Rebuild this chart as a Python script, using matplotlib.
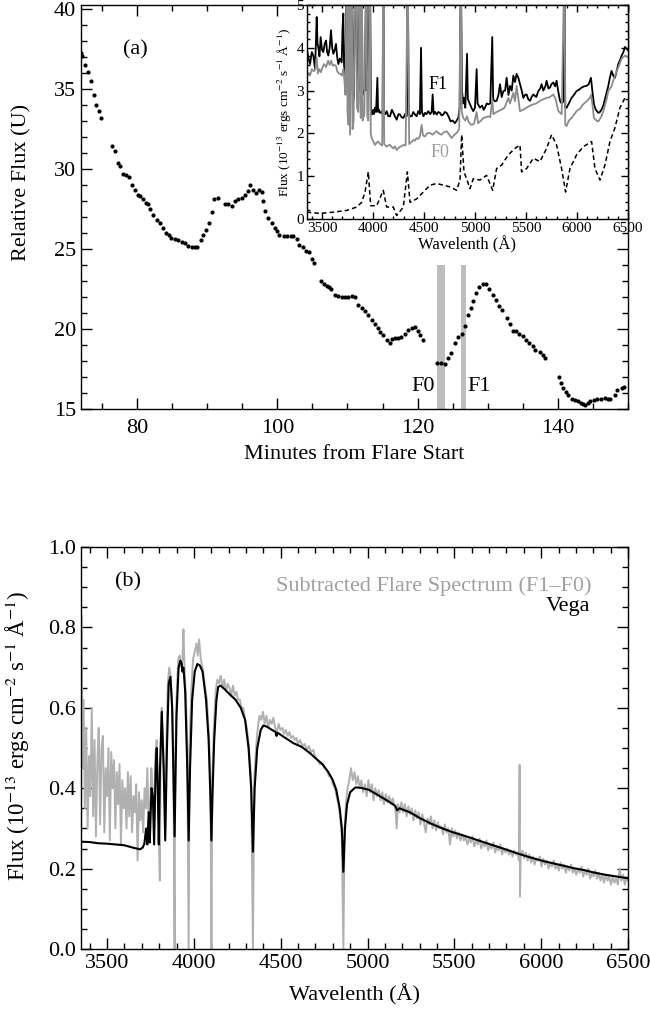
import matplotlib
matplotlib.use("Agg")
import matplotlib.pyplot as plt
from matplotlib.ticker import MultipleLocator

plt.rcParams['font.family'] = ['Liberation Serif', 'DejaVu Serif']
plt.rcParams['mathtext.fontset'] = 'stix'

# (a) U-band light curve
minutes = [72.0, 72.2, 72.6, 73.0, 73.4, 73.8, 74.2, 74.6, 74.9, 76.4, 76.9, 77.3, 77.6, 78.0,
           78.4, 78.8, 79.3, 79.7, 80.1, 80.4, 80.9, 81.3, 81.6, 81.9, 82.3, 82.8, 83.2, 83.65,
           84.1, 84.5, 84.9, 85.4, 85.9, 86.4, 86.8, 87.3, 87.8, 88.3, 88.6, 89.1, 89.45, 89.8,
           90.3, 90.65, 91.0, 91.6, 92.5, 93.0, 93.5, 94.0, 94.4, 94.9, 95.4, 95.8, 96.1, 96.5,
           96.9, 97.4, 97.8, 98.0, 98.25, 98.7, 99.3, 99.6, 99.9, 100.3, 100.9, 101.4, 101.9,
           102.3, 102.8, 103.1, 103.6, 104.1, 104.5, 104.9, 105.2, 106.2, 106.6, 107.05, 107.4,
           107.7, 108.2, 108.7, 109.2, 109.7, 110.1, 110.6, 111.1, 111.55, 112.0, 112.5, 112.95,
           113.5, 113.9, 114.3, 114.65, 115.1, 115.6, 116.0, 116.3, 116.8, 117.25, 117.7, 118.2,
           118.65, 119.2, 119.6, 120.0, 120.3, 120.7, 122.8, 123.3, 123.9, 124.4, 124.8, 125.35,
           125.8, 126.3, 126.8, 127.25, 127.6, 127.9, 128.35, 128.8, 129.3, 129.75, 130.25,
           130.7, 131.2, 131.65, 132.1, 132.7, 133.2, 133.65, 134.05, 134.5, 135.0, 135.5,
           135.95, 136.4, 136.8, 137.4, 137.9, 138.2, 140.1, 140.45, 140.8, 141.2, 141.5, 142.0,
           142.5, 142.9, 143.3, 143.6, 143.9, 144.3, 144.6, 145.2, 145.6, 146.1, 146.7, 147.1,
           147.5, 148.1, 148.5, 149.1, 149.5]
rel_flux = [37.26, 37.05, 36.5, 36.04, 35.5, 34.6, 34.0, 33.6, 33.2, 31.44, 31.1, 30.4, 30.2, 29.7,
            29.6, 29.5, 29.0, 28.7, 28.4, 28.3, 28.1, 27.9, 27.8, 27.5, 27.1, 26.8, 26.6, 26.3,
            26.0, 25.9, 25.7, 25.65, 25.55, 25.45, 25.35, 25.2, 25.1, 25.1, 25.15, 25.55, 25.9, 26.2,
            26.6, 27.3, 28.1, 28.2, 27.8, 27.8, 27.7, 28.0, 28.1, 28.2, 28.4, 28.6, 29.0, 28.7,
            28.5, 28.7, 28.55, 28.0, 27.4, 26.95, 26.65, 26.3, 26.1, 25.9, 25.8, 25.8, 25.8,
            25.8, 25.65, 25.25, 25.1, 24.9, 24.8, 24.4, 24.1, 23.0, 22.8, 22.7, 22.6,
            22.5, 22.15, 22.05, 22.0, 22.0, 22.0, 22.05, 22.0, 21.5, 21.3, 21.1, 20.85,
            20.55, 20.3, 20.05, 19.8, 19.6, 19.3, 19.1, 19.4, 19.45, 19.45, 19.5, 19.7,
            19.95, 20.05, 20.1, 19.9, 19.65, 19.3, 17.85, 17.85, 17.8, 18.2, 18.5, 19.1,
            19.5, 19.7, 20.2, 20.9, 21.3, 21.75, 22.25, 22.6, 22.8, 22.8, 22.5,
            22.1, 21.8, 21.45, 21.2, 20.7, 20.3, 19.9, 19.85, 19.7, 19.55, 19.3,
            19.1, 18.95, 18.7, 18.55, 18.4, 18.2, 17.0, 16.6, 16.3, 16.05, 15.85, 15.65,
            15.55, 15.47, 15.4, 15.33, 15.27, 15.35, 15.47, 15.55, 15.6, 15.62, 15.66, 15.64,
            15.62, 15.89, 16.2, 16.3, 16.4]
f0_window = [122.8, 123.9]
f1_window = [126.2, 126.9]

# inset: F1 and F0 spectra
f1_wave = [3350, 3368, 3383, 3400, 3415, 3432, 3448, 3456, 3464, 3475, 3487, 3500, 3513, 3527, 3540,
           3550, 3562, 3575, 3588, 3600, 3611, 3625, 3637, 3648, 3660, 3675, 3693, 3702, 3709, 3716,
           3730, 3742, 3750, 3760, 3768, 3778, 3791, 3805, 3815, 3824, 3835, 3845, 3856, 3873, 3880,
           3889, 3898, 3905, 3920, 3934, 3944, 3954, 3970, 3980, 3987, 4000, 4010, 4020, 4030, 4043,
           4050, 4060, 4069, 4085, 4095, 4101, 4108, 4120, 4134, 4150, 4167, 4185, 4200, 4215, 4232,
           4250, 4265, 4280, 4297, 4315, 4330, 4340, 4350, 4365, 4379, 4395, 4412, 4428, 4444, 4460,
           4471, 4480, 4495, 4510, 4525, 4542, 4560, 4575, 4585, 4595, 4610, 4624, 4640, 4657, 4672,
           4689, 4705, 4722, 4740, 4761, 4780, 4804, 4820, 4836, 4850, 4861, 4872, 4885, 4892, 4905,
           4922, 4930, 4951, 4965, 4983, 5000, 5016, 5025, 5049, 5070, 5085, 5098, 5115, 5130, 5150,
           5169, 5178, 5195, 5212, 5230, 5245, 5262, 5278, 5295, 5310, 5328, 5343, 5360, 5376, 5392,
           5408, 5425, 5441, 5458, 5474, 5490, 5506, 5522, 5539, 5555, 5572, 5600, 5621, 5640, 5653,
           5670, 5690, 5702, 5720, 5735, 5750, 5768, 5785, 5800, 5815, 5833, 5850, 5868, 5876, 5885,
           5898, 5920, 5947, 5970, 5996, 6020, 6045, 6070, 6094, 6115, 6137, 6150, 6166, 6185, 6209,
           6225, 6241, 6258, 6274, 6290, 6307, 6322, 6339, 6355, 6372, 6388, 6405, 6420, 6438, 6455,
           6470, 6485, 6500]
f1_flux = [4.0, 3.75, 3.62, 3.9, 3.82, 3.5, 4.72, 4.1, 4.0, 3.8, 4.25, 3.95, 3.9, 4.1, 4.17,
           3.9, 3.82, 4.0, 4.41, 4.0, 3.86, 3.95, 4.09, 3.8, 3.62, 3.75, 3.66, 4.5, 4.8, 3.6,
           3.3, 6.0, 3.1, 2.9, 6.0, 3.0, 6.0, 2.7, 2.9, 6.0, 6.0, 2.8, 2.68, 6.0, 3.0,
           6.0, 2.9, 2.99, 3.0, 6.0, 3.0, 3.15, 6.0, 2.5, 2.44, 2.55, 2.45, 2.6, 2.5, 3.3,
           2.5, 2.55, 2.48, 2.5, 2.45, 6.0, 2.5, 2.45, 2.52, 2.4, 2.4, 2.55, 2.48, 2.4, 2.32,
           2.45, 2.44, 2.38, 2.36, 2.45, 2.4, 6.0, 2.45, 2.4, 2.4, 2.5, 2.44, 2.4, 2.52, 2.45,
           4.0, 2.5, 2.4, 2.48, 2.45, 2.52, 2.45, 2.5, 2.91, 2.45, 2.5, 2.44, 2.5, 2.48, 2.42,
           2.44, 2.5, 2.48, 2.4, 2.28, 2.3, 2.24, 2.3, 2.36, 2.6, 6.0, 3.0, 2.7, 2.83, 2.6,
           3.86, 2.8, 2.68, 2.6, 2.52, 2.6, 3.5, 2.7, 2.6, 2.65, 2.55, 2.6, 2.7, 2.68, 2.7,
           4.25, 2.8, 2.75, 2.76, 2.9, 3.15, 2.85, 2.99, 3.0, 3.3, 2.9, 3.11, 3.0, 3.35, 3.2,
           3.39, 3.3, 3.15, 3.0, 2.83, 2.9, 2.91, 2.8, 2.76, 2.85, 2.91, 2.85, 2.99, 3.05, 3.15,
           3.0, 3.1, 3.23, 3.05, 3.07, 3.15, 3.19, 3.1, 3.23, 3.0, 2.76, 2.7, 2.75, 6.0, 2.6,
           2.6, 2.7, 2.83, 2.9, 2.99, 3.02, 3.07, 3.1, 3.11, 3.15, 3.3, 3.0, 2.68, 2.55, 2.48,
           2.5, 2.56, 2.65, 2.8, 2.95, 3.11, 3.3, 3.46, 3.35, 3.3, 3.45, 3.62, 3.7, 3.82, 3.9,
           4.02, 3.98, 3.94]
f0_wave = [3350, 3365, 3383, 3400, 3420, 3435, 3448, 3460, 3475, 3490, 3505, 3520, 3540, 3560, 3575,
           3590, 3605, 3620, 3637, 3650, 3665, 3680, 3695, 3709, 3720, 3730, 3742, 3750, 3760, 3768,
           3775, 3791, 3800, 3810, 3824, 3835, 3843, 3856, 3873, 3880, 3889, 3898, 3915, 3934, 3944,
           3954, 3970, 3978, 3987, 4005, 4020, 4035, 4050, 4070, 4090, 4101, 4110, 4134, 4150, 4167,
           4185, 4200, 4215, 4232, 4250, 4265, 4283, 4297, 4320, 4340, 4355, 4379, 4400, 4412, 4428,
           4444, 4460, 4477, 4490, 4510, 4530, 4558, 4585, 4605, 4624, 4645, 4669, 4690, 4722, 4745,
           4771, 4790, 4820, 4845, 4861, 4870, 4885, 4905, 4922, 4935, 4960, 4990, 5016, 5030, 5060,
           5082, 5110, 5130, 5150, 5169, 5180, 5196, 5230, 5262, 5290, 5327, 5343, 5376, 5392, 5408,
           5425, 5441, 5470, 5506, 5540, 5572, 5600, 5637, 5670, 5702, 5735, 5768, 5790, 5817, 5850,
           5876, 5885, 5898, 5920, 5947, 5975, 5996, 6030, 6061, 6094, 6126, 6137, 6150, 6166, 6190,
           6209, 6240, 6258, 6290, 6307, 6339, 6355, 6388, 6405, 6438, 6470, 6500]
f0_flux = [3.31, 3.4, 3.35, 3.5, 3.45, 3.5, 3.78, 3.4, 3.5, 3.43, 3.55, 3.62, 3.55, 3.7, 3.6,
           3.7, 3.58, 3.6, 3.58, 3.45, 3.4, 3.39, 3.35, 3.5, 3.23, 2.9, 6.0, 2.5, 2.2, 6.0,
           1.97, 6.0, 2.1, 2.3, 6.0, 6.0, 2.6, 2.5, 6.0, 2.36, 6.0, 2.3, 2.44, 6.0, 2.4,
           2.3, 6.0, 2.0, 1.89, 1.8, 1.73, 1.78, 1.81, 1.75, 1.72, 6.0, 1.75, 1.69, 1.72, 1.73,
           1.68, 1.65, 1.7, 1.61, 1.66, 1.69, 1.7, 1.73, 1.72, 6.0, 1.75, 1.81, 1.85, 1.83, 1.89,
           1.87, 1.93, 2.2, 1.95, 1.93, 2.0, 2.01, 1.97, 2.02, 2.05, 2.0, 1.97, 2.02, 2.05, 1.98,
           1.89, 1.95, 2.01, 2.1, 6.0, 2.5, 2.36, 2.3, 2.4, 2.28, 2.2, 2.22, 2.5, 2.24, 2.3,
           2.36, 2.38, 2.4, 2.38, 2.8, 2.45, 2.48, 2.52, 2.56, 2.6, 2.83, 2.7, 2.95, 2.75, 3.11,
           2.8, 2.52, 2.55, 2.6, 2.65, 2.68, 2.7, 2.76, 2.8, 2.83, 2.85, 2.91, 2.8, 2.52, 2.45,
           6.0, 2.2, 2.17, 2.3, 2.36, 2.45, 2.52, 2.58, 2.68, 2.75, 2.83, 2.9, 2.7, 2.36, 2.3,
           2.28, 2.4, 2.52, 2.8, 2.99, 3.1, 3.23, 3.45, 3.54, 3.75, 3.82, 3.78]
comp_wave = [3350, 3481, 3611, 3742, 3840, 3889, 3922, 3954, 3977, 4036, 4101, 4134, 4199, 4232,
             4297, 4337, 4363, 4428, 4493, 4559, 4624, 4689, 4755, 4820, 4853, 4869, 4892, 4918,
             4951, 4983, 5049, 5114, 5173, 5212, 5261, 5327, 5392, 5441, 5457, 5506, 5572, 5637,
             5702, 5751, 5800, 5849, 5888, 5931, 5996, 6062, 6143, 6176, 6225, 6274, 6323, 6372,
             6421, 6470, 6493]
comp_flux = [0.16, 0.13, 0.16, 0.2, 0.28, 0.39, 0.63, 1.1, 0.31, 0.31, 0.67, 0.28, 0.28, 0.08,
             0.28, 1.1, 0.39, 0.47, 0.63, 0.79, 0.83, 0.79, 0.75, 0.67, 0.91, 1.97, 1.1, 0.94,
             0.71, 0.94, 0.91, 1.02, 0.67, 1.18, 1.26, 1.5, 1.65, 1.73, 1.1, 1.18, 1.42, 1.34,
             1.65, 1.97, 1.73, 1.18, 0.63, 1.18, 1.5, 1.69, 1.81, 1.18, 0.91, 1.26, 1.81, 2.13,
             2.6, 2.83, 2.83]

# (b) subtracted flare spectrum and Vega
flare_wave = [3350, 3352, 3358, 3365, 3372, 3380, 3388, 3396, 3404, 3412, 3420, 3428, 3436, 3444,
              3452, 3460, 3468, 3476, 3484, 3492, 3500, 3508, 3516, 3524, 3532, 3540, 3548, 3556,
              3564, 3572, 3580, 3588, 3596, 3604, 3612, 3620, 3628, 3636, 3644, 3652, 3660, 3668,
              3676, 3684, 3692, 3700, 3708, 3716, 3724, 3732, 3740, 3748, 3755, 3762, 3771, 3778,
              3786, 3792, 3798, 3804, 3808, 3815, 3822, 3830, 3835, 3842, 3850, 3858, 3866, 3874,
              3882, 3889, 3892, 3900, 3910, 3918, 3926, 3934, 3940, 3946, 3955, 3962, 3970, 3975,
              3985, 3995, 4005, 4015, 4022, 4030, 4040, 4050, 4062, 4075, 4088, 4096, 4101, 4106,
              4115, 4125, 4135, 4145, 4155, 4165, 4175, 4185, 4195, 4205, 4215, 4225, 4235, 4245,
              4255, 4265, 4275, 4285, 4295, 4305, 4318, 4330, 4340, 4348, 4358, 4368, 4378, 4388,
              4398, 4408, 4418, 4428, 4438, 4448, 4458, 4468, 4478, 4488, 4498, 4510, 4520, 4530,
              4540, 4550, 4560, 4570, 4580, 4590, 4600, 4612, 4625, 4638, 4650, 4662, 4675, 4688,
              4700, 4712, 4725, 4740, 4752, 4765, 4778, 4790, 4800, 4812, 4822, 4832, 4842, 4852,
              4861, 4868, 4876, 4885, 4895, 4905, 4915, 4925, 4935, 4945, 4955, 4965, 4975, 4985,
              4995, 5005, 5015, 5025, 5035, 5045, 5055, 5065, 5075, 5085, 5095, 5105, 5115, 5125,
              5135, 5145, 5160, 5168, 5175, 5185, 5195, 5205, 5215, 5225, 5235, 5245, 5255, 5265,
              5275, 5285, 5295, 5305, 5315, 5325, 5335, 5345, 5355, 5365, 5375, 5385, 5395, 5405,
              5415, 5425, 5435, 5445, 5455, 5465, 5475, 5485, 5495, 5505, 5515, 5525, 5535, 5545,
              5555, 5565, 5575, 5585, 5595, 5605, 5615, 5625, 5635, 5645, 5655, 5665, 5675, 5685,
              5695, 5705, 5715, 5725, 5735, 5745, 5755, 5765, 5775, 5785, 5795, 5805, 5815, 5825,
              5835, 5845, 5855, 5865, 5872, 5876, 5878, 5882, 5892, 5902, 5912, 5922, 5932, 5942,
              5952, 5962, 5972, 5982, 5992, 6002, 6012, 6022, 6032, 6042, 6052, 6062, 6072, 6082,
              6092, 6102, 6112, 6122, 6132, 6142, 6152, 6162, 6172, 6182, 6192, 6202, 6212, 6222,
              6232, 6242, 6252, 6262, 6272, 6282, 6292, 6302, 6312, 6322, 6332, 6342, 6352, 6362,
              6372, 6382, 6392, 6402, 6412, 6422, 6432, 6442, 6452, 6462, 6472, 6482, 6492, 6500]
flare_flux = [0.05, 0.83, 0.45, 0.62, 0.35, 0.55, 0.30, 0.48, 0.38, 0.60, 0.33, 0.52, 0.28, 0.46,
              0.55, 0.31, 0.50, 0.53, 0.29, 0.45, 0.38, 0.50, 0.27, 0.49, 0.40, 0.47, 0.30, 0.44,
              0.36, 0.46, 0.26, 0.42, 0.35, 0.40, 0.30, 0.44, 0.33, 0.43, 0.29, 0.38, 0.34, 0.41,
              0.22, 0.39, 0.32, 0.37, 0.29, 0.40, 0.35, 0.45, 0.30, 0.36, 0.45, 0.40, 0.30, 0.48,
              0.52, 0.42, 0.28, 0.17, 0.46, 0.60, 0.52, 0.40, 0.30, 0.52, 0.66, 0.70, 0.68, 0.62,
              0.45, 0.0, 0.45, 0.62, 0.72, 0.73, 0.70, 0.72, 0.795, 0.70, 0.62, 0.50, 0.0, 0.50,
              0.64, 0.72, 0.74, 0.76, 0.73, 0.77, 0.72, 0.70, 0.66, 0.62, 0.52, 0.40, 0.0, 0.42,
              0.55, 0.64, 0.67, 0.66, 0.68, 0.65, 0.67, 0.64, 0.66, 0.65, 0.63, 0.655, 0.63, 0.64,
              0.62, 0.62, 0.60, 0.60, 0.57, 0.55, 0.50, 0.42, 0.0, 0.42, 0.50, 0.55, 0.58, 0.57,
              0.59, 0.56, 0.58, 0.55, 0.57, 0.56, 0.575, 0.55, 0.54, 0.56, 0.545, 0.55, 0.535, 0.545,
              0.53, 0.54, 0.525, 0.53, 0.52, 0.525, 0.51, 0.52, 0.505, 0.51, 0.495, 0.505, 0.49, 0.495,
              0.475, 0.47, 0.46, 0.46, 0.45, 0.445, 0.43, 0.43, 0.41, 0.40, 0.38, 0.36, 0.33, 0.28,
              0.0, 0.30, 0.36, 0.40, 0.42, 0.45, 0.42, 0.44, 0.41, 0.43, 0.40, 0.42, 0.39, 0.41,
              0.38, 0.42, 0.39, 0.41, 0.37, 0.40, 0.38, 0.395, 0.37, 0.39, 0.36, 0.385, 0.365, 0.38,
              0.36, 0.375, 0.35, 0.30, 0.36, 0.34, 0.365, 0.34, 0.36, 0.33, 0.355, 0.335, 0.35, 0.32,
              0.345, 0.325, 0.34, 0.31, 0.335, 0.315, 0.29, 0.325, 0.31, 0.33, 0.30, 0.32, 0.295, 0.315,
              0.30, 0.305, 0.285, 0.31, 0.29, 0.30, 0.26, 0.30, 0.28, 0.295, 0.275, 0.29, 0.27, 0.285,
              0.27, 0.28, 0.26, 0.275, 0.265, 0.28, 0.255, 0.27, 0.26, 0.275, 0.25, 0.265, 0.255, 0.27,
              0.245, 0.26, 0.25, 0.265, 0.24, 0.255, 0.245, 0.26, 0.235, 0.25, 0.24, 0.25, 0.235, 0.245,
              0.23, 0.245, 0.235, 0.24, 0.22, 0.458, 0.13, 0.23, 0.245, 0.225, 0.24, 0.22, 0.235, 0.215,
              0.23, 0.21, 0.225, 0.22, 0.23, 0.205, 0.225, 0.21, 0.22, 0.20, 0.215, 0.205, 0.22, 0.20,
              0.21, 0.195, 0.215, 0.20, 0.21, 0.19, 0.205, 0.195, 0.21, 0.19, 0.20, 0.185, 0.20, 0.19,
              0.205, 0.18, 0.195, 0.185, 0.20, 0.175, 0.19, 0.18, 0.195, 0.175, 0.19, 0.17, 0.185, 0.165,
              0.185, 0.17, 0.18, 0.16, 0.18, 0.165, 0.175, 0.16, 0.20, 0.17, 0.185, 0.16, 0.18, 0.17]
vega_wave = [3350, 3400, 3450, 3500, 3550, 3600, 3650, 3690, 3705, 3715, 3725, 3732, 3740, 3746,
             3756, 3764, 3771, 3780, 3786, 3792, 3798, 3805, 3815, 3826, 3835, 3845, 3855, 3865,
             3875, 3889, 3900, 3912, 3922, 3930, 3934, 3940, 3950, 3962, 3970, 3978, 3990, 4005,
             4020, 4035, 4050, 4070, 4085, 4095, 4101, 4107, 4117, 4130, 4140, 4155, 4180, 4210,
             4240, 4270, 4295, 4315, 4330, 4340, 4350, 4365, 4385, 4400, 4420, 4450, 4470, 4476,
             4482, 4520, 4573, 4620, 4669, 4700, 4740, 4773, 4800, 4820, 4840, 4852, 4861, 4870,
             4882, 4900, 4930, 4960, 5008, 5060, 5125, 5160, 5170, 5184, 5244, 5300, 5362, 5420,
             5480, 5540, 5598, 5660, 5716, 5780, 5834, 5890, 5952, 6010, 6070, 6130, 6188, 6250,
             6306, 6365, 6424, 6500]
vega_flux = [0.267, 0.266, 0.263, 0.262, 0.260, 0.258, 0.252, 0.248, 0.252, 0.262, 0.30, 0.26, 0.34,
             0.265, 0.40, 0.38, 0.26, 0.45, 0.50, 0.40, 0.26, 0.45, 0.59, 0.45, 0.27, 0.50, 0.66, 0.677,
             0.60, 0.28, 0.58, 0.70, 0.717, 0.71, 0.69, 0.70, 0.64, 0.45, 0.27, 0.45, 0.62, 0.69,
             0.709, 0.705, 0.69, 0.62, 0.52, 0.38, 0.27, 0.38, 0.52, 0.62, 0.652, 0.655, 0.645, 0.632,
             0.62, 0.60, 0.57, 0.50, 0.40, 0.242, 0.40, 0.50, 0.545, 0.556, 0.553, 0.545, 0.54, 0.53,
             0.538, 0.527, 0.512, 0.503, 0.487, 0.475, 0.46, 0.441, 0.42, 0.396, 0.35, 0.30, 0.192, 0.30,
             0.36, 0.39, 0.402, 0.401, 0.396, 0.383, 0.366, 0.356, 0.345, 0.350, 0.340, 0.326, 0.3125, 0.302,
             0.292, 0.284, 0.276, 0.267, 0.259, 0.250, 0.242, 0.234, 0.226, 0.219, 0.213, 0.207, 0.201, 0.196,
             0.19, 0.185, 0.181, 0.176]

FS = 16
FS_IN = 11


def idl_ticks(ax, major, minor, size):
    ax.tick_params(which='both', direction='in', top=True, right=True, width=1.0,
                   labelsize=size)
    ax.tick_params(which='major', length=major)
    ax.tick_params(which='minor', length=minor)
    for s in ax.spines.values():
        s.set_linewidth(1.0)
    for lab in ax.get_yticklabels():
        lab.set_verticalalignment('center_baseline')


fig = plt.figure(figsize=(6.5, 10.09), dpi=100)

# panel (a)
ax1 = fig.add_axes([81 / 650, 1 - 409 / 1009, 547 / 650, 404 / 1009])
ax1.plot(minutes, rel_flux, 'o', color='black', ms=3.0, mec='none')
ax1.fill_between(f0_window, 15, 24, color='#bebebe', lw=0)
ax1.fill_between(f1_window, 15, 24, color='#bebebe', lw=0)
ax1.set_xlim(72, 150)
ax1.set_ylim(15, 40.25)
ax1.xaxis.set_major_locator(MultipleLocator(20))
ax1.xaxis.set_minor_locator(MultipleLocator(5))
ax1.yaxis.set_major_locator(MultipleLocator(5))
ax1.yaxis.set_minor_locator(MultipleLocator(1))
idl_ticks(ax1, 8, 4, FS)
ax1.tick_params(axis='x', pad=7)
ax1.set_xlabel('Minutes from Flare Start', fontsize=FS, labelpad=5)
ax1.set_ylabel('Relative Flux (U)', fontsize=FS)
ax1.yaxis.set_label_coords(-0.09, 0.56)
ax1.text(0.077, 0.89, '(a)', transform=ax1.transAxes, fontsize=FS, va='center')
ax1.text(122.5, 16.4, 'F0', fontsize=FS, ha='right', va='center')
ax1.text(127.1, 16.4, 'F1', fontsize=FS, ha='left', va='center')

# inset
axi = fig.add_axes([306.7 / 650, 1 - 219 / 1009, (628 - 306.7) / 650, 214 / 1009])
axi.set_zorder(3)
axi.set_facecolor('white')
axi.plot(f1_wave, f1_flux, color='black', lw=1.3)
axi.plot(f0_wave, f0_flux, color='#8c8c8c', lw=1.3)
axi.plot(comp_wave, comp_flux, color='black', lw=1.1, dashes=(3, 2))
axi.set_xlim(3350, 6500)
axi.set_ylim(0, 5)
axi.xaxis.set_major_locator(MultipleLocator(500))
axi.xaxis.set_minor_locator(MultipleLocator(100))
axi.yaxis.set_major_locator(MultipleLocator(1))
axi.yaxis.set_minor_locator(MultipleLocator(0.2))
idl_ticks(axi, 5, 2.5, FS_IN)
axi.tick_params(pad=2)
axi.set_xlabel('Wavelenth (Å)', fontsize=FS_IN + 1, labelpad=1)
axi.set_ylabel('Flux (10$^{-13}$ ergs cm$^{-2}$ s$^{-1}$ Å$^{-1}$)', fontsize=FS_IN - 1.5,
               labelpad=2)
axi.text(4640, 3.15, 'F1', fontsize=13, ha='center', va='center', color='black')
axi.text(4660, 1.55, 'F0', fontsize=13, ha='center', va='center', color='#a0a0a0')

# panel (b)
ax2 = fig.add_axes([81 / 650, 1 - 949 / 1009, 547 / 650, 402 / 1009])
ax2.plot(flare_wave, flare_flux, color='#b0b0b0', lw=1.4)
ax2.plot(vega_wave, vega_flux, color='black', lw=1.5)
ax2.set_xlim(3350, 6500)
ax2.set_ylim(0, 1)
ax2.xaxis.set_major_locator(MultipleLocator(500))
ax2.xaxis.set_minor_locator(MultipleLocator(100))
ax2.yaxis.set_major_locator(MultipleLocator(0.2))
ax2.yaxis.set_minor_locator(MultipleLocator(0.05))
ax2.yaxis.set_major_formatter(plt.FormatStrFormatter('%.1f'))
idl_ticks(ax2, 8, 4, FS)
ax2.set_xlabel('Wavelenth (Å)', fontsize=FS, labelpad=8)
ax2.set_ylabel('Flux (10$^{-13}$ ergs cm$^{-2}$ s$^{-1}$ Å$^{-1}$)', fontsize=FS + 0.5)
ax2.yaxis.set_label_coords(-0.09, 0.53)
ax2.text(0.062, 0.913, '(b)', transform=ax2.transAxes, fontsize=FS, va='center')
ax2.text(0.934, 0.903, 'Subtracted Flare Spectrum (F1–F0)', transform=ax2.transAxes,
         fontsize=FS, ha='right', va='center', color='#a0a0a0')
ax2.text(0.931, 0.851, 'Vega', transform=ax2.transAxes, fontsize=FS, ha='right',
         va='center', color='black')

fig.savefig('out.png', dpi=100)
